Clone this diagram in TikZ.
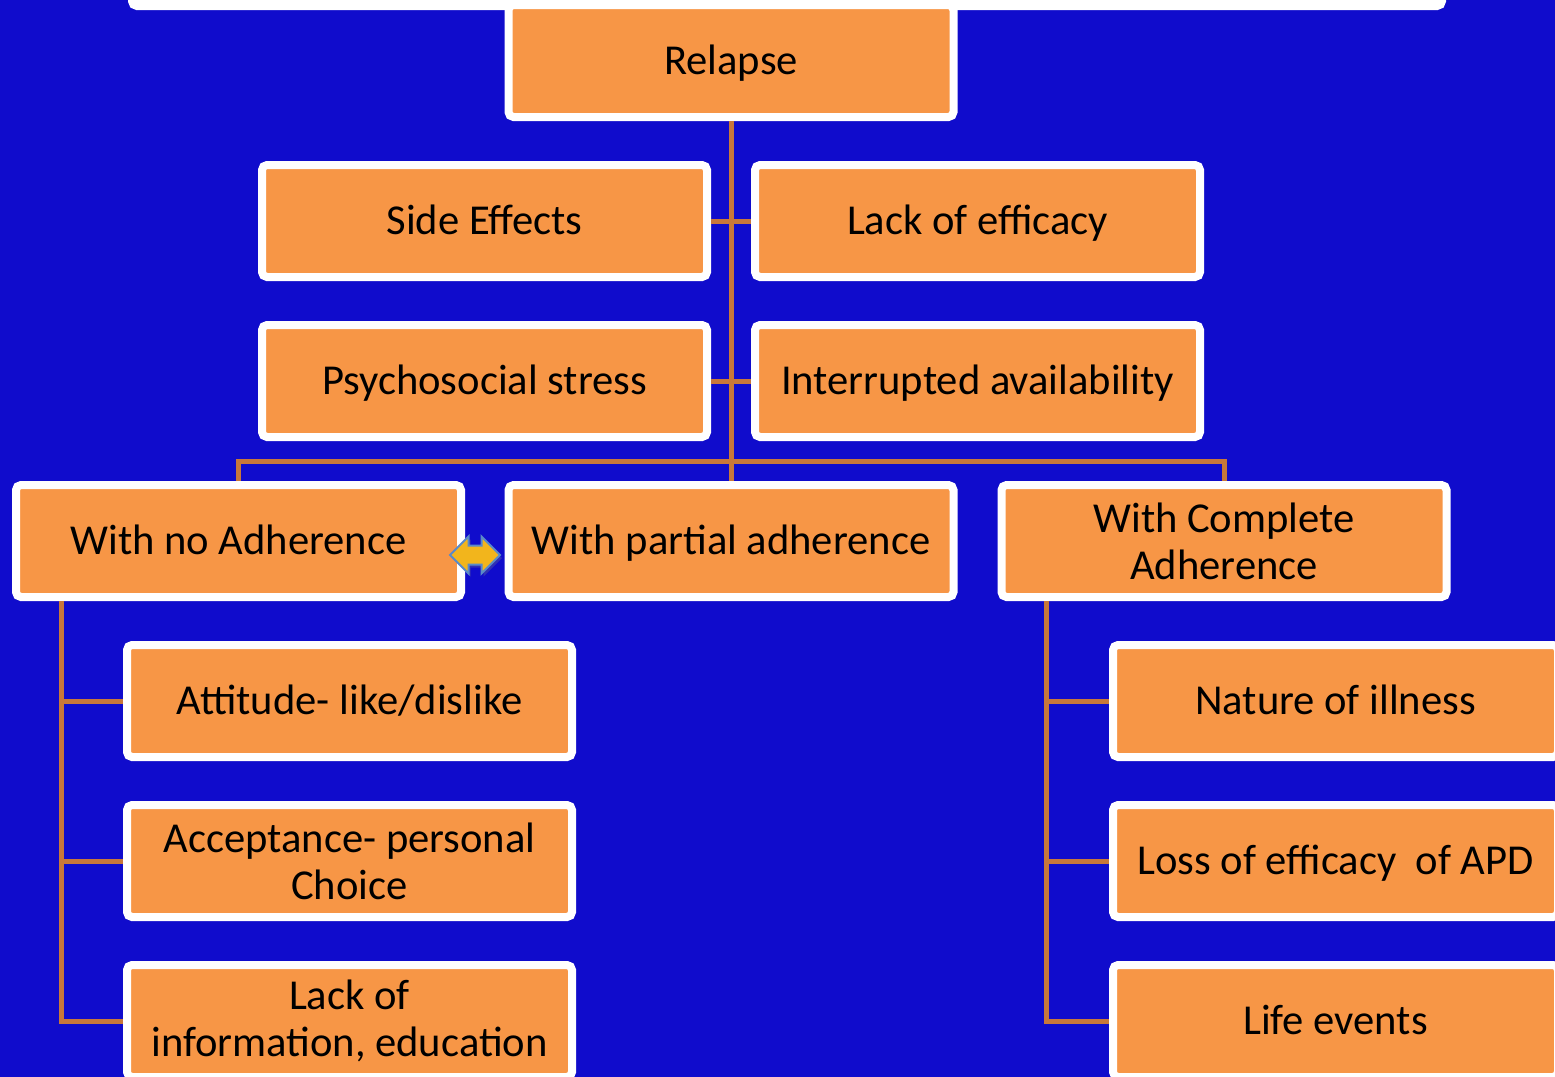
\documentclass[tikz,border=0pt]{standalone}
\usepackage{fontspec}
\setmainfont{Carlito}
\usetikzlibrary{shapes.arrows,shadows}
\definecolor{bg}{HTML}{100CCC}
\definecolor{boxfill}{HTML}{F79646}
\definecolor{conn}{HTML}{C8783A}
\definecolor{arrfill}{HTML}{F2B51C}
\definecolor{arrline}{HTML}{5A8AC8}
\tikzset{
  box/.style={rectangle, fill=boxfill, draw=white, line width=4pt, rounded corners=2.5pt,
    minimum width=222.5pt, minimum height=56pt, inner sep=2pt, align=center,
    font=\fontsize{21.3}{23.5}\selectfont, text=black,
    drop shadow={opacity=0.35, shadow xshift=1.5pt, shadow yshift=-1.5pt}},
  one/.style={text height=17pt, text depth=4pt},
  link/.style={draw=conn, line width=2.5pt},
}
\begin{document}
\begin{tikzpicture}[x=0.5pt,y=-0.5pt]
\useasboundingbox (0,0) rectangle (1555,1077);
\fill[bg] (0,0) rectangle (1555,1077);
% top partially visible bar
\node[box, minimum width=655pt, minimum height=30pt, fill=white] (topbar) at (787,-24) {};
% nodes
\node[box,one] (relapse) at (731,61) {Relapse};
\node[box,one] (side) at (484.5,221) {Side Effects};
\node[box,one] (lackeff) at (977.5,221) {Lack of efficacy};
\node[box,one] (psycho) at (484.5,381) {Psychosocial stress};
\node[box,one] (interr) at (977.5,381) {Interrupted availability};
\node[box,one] (noadh) at (238.5,541) {With no Adherence};
\node[box,one] (partial) at (731,541) {With partial adherence};
\node[box] (complete) at (1224,541) {With Complete\\Adherence};
\node[box,one] (attitude) at (349.5,701) {Attitude- like/dislike};
\node[box] (accept) at (349.5,861) {Acceptance- personal\\Choice};
\node[box] (lackinfo) at (349.5,1021) {Lack of\\information, education};
\node[box,one] (nature) at (1335.5,701) {Nature of illness};
\node[box,one] (loss) at (1335.5,861) {Loss of efficacy~ of APD};
\node[box,one] (life) at (1335.5,1021) {Life events};
% double arrow
\node[double arrow, fill=arrfill, draw=arrline, line width=1pt, minimum width=17.5pt, minimum height=25pt,
  double arrow head extend=4.5pt, inner sep=0pt, text height=8.5pt, text depth=0pt, text width=0pt,
  drop shadow={opacity=0.3, shadow xshift=1pt, shadow yshift=-1.5pt}] (dbl) at (475,555) {};
% connectors
\coordinate (bus) at (731,461);
\coordinate (lspine) at (61,601);
\coordinate (rspine) at (1046,601);
\path[link] (relapse.south) -- (partial.north);
\path[link] (side.east) -- (lackeff.west);
\path[link] (psycho.east) -- (interr.west);
\path[link] (noadh.north) |- (bus) -| (complete.north);
\path[link] (lspine) |- (attitude.west);
\path[link] (lspine) |- (accept.west);
\path[link] (lspine) |- (lackinfo.west);
\path[link] (rspine) |- (nature.west);
\path[link] (rspine) |- (loss.west);
\path[link] (rspine) |- (life.west);
\end{tikzpicture}
\end{document}
